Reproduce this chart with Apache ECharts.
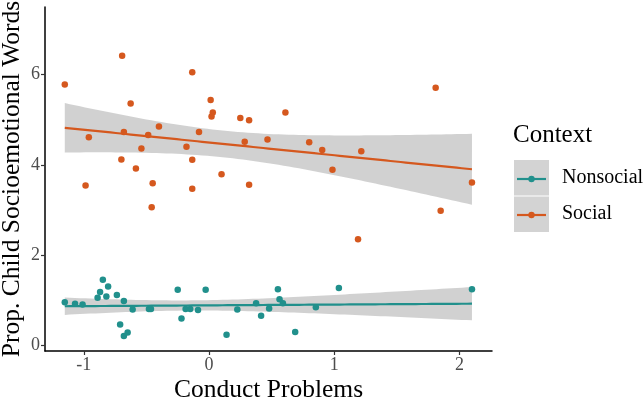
<!DOCTYPE html>
<html>
<head>
<meta charset="utf-8">
<script src="https://cdn.jsdelivr.net/npm/echarts@6/dist/echarts.min.js"></script>
<style>
html,body{margin:0;padding:0;background:#fff;}
#chart{width:644px;height:401px;}
</style>
</head>
<body>
<div id="chart"></div>
<script>
// ---- data ----
const seriesNames = ['Nonsocial', 'Social'];
const nonsocialX = [-1.152,-1.07,-1.01,-0.89,-0.87,-0.848,-0.806,-0.82,-0.736,-0.68,-0.61,-0.71,-0.68,-0.65,-0.48,-0.464,-0.25,-0.22,-0.187,-0.15,-0.088,-0.027,0.14,0.226,0.376,0.416,0.48,0.55,0.563,0.59,0.688,0.853,1.037,2.10];
const nonsocialY = [0.95,0.92,0.90,1.05,1.18,1.45,1.30,1.08,1.11,0.98,0.79,0.46,0.20,0.28,0.80,0.80,1.23,0.59,0.80,0.80,0.78,1.23,0.23,0.79,0.93,0.65,0.81,1.24,1.02,0.93,0.29,0.84,1.27,1.24];
const socialX = [-1.152,-0.694,-0.134,-0.626,0.013,0.03,0.02,0.25,0.32,0.61,1.81,-0.96,-0.68,-0.486,-0.40,-0.54,-0.18,-0.08,-0.70,-0.134,-0.584,0.10,-0.986,-0.45,-0.134,0.285,0.467,0.80,0.904,1.216,0.32,0.986,2.10,-0.458,1.19,1.85];
const socialY = [5.78,6.42,6.05,5.36,5.44,5.16,5.07,5.04,4.99,5.16,5.71,4.61,4.73,4.66,4.85,4.36,4.40,4.73,4.12,4.11,3.92,3.79,3.54,3.59,3.47,4.51,4.56,4.50,4.33,4.30,3.56,3.89,3.61,3.06,2.35,2.98];
const xTicks = [-1, 0, 1, 2];
const yTicks = [0, 2, 4, 6];
const xAxisTitle = 'Conduct Problems';
const yAxisTitle = 'Prop. Child Socioemotional Words';
const legendTitle = 'Context';

const colors = {Nonsocial: '#21908C', Social: '#D5581E'};
const T975 = 2.03; // t quantile for 95% CI of lm fit

function lmFit(xs, ys) {
  const n = xs.length;
  const mx = xs.reduce((a, b) => a + b, 0) / n;
  const my = ys.reduce((a, b) => a + b, 0) / n;
  let sxx = 0, sxy = 0;
  for (let i = 0; i < n; i++) { sxx += (xs[i] - mx) ** 2; sxy += (xs[i] - mx) * (ys[i] - my); }
  const b = sxy / sxx, a = my - b * mx;
  let sse = 0;
  for (let i = 0; i < n; i++) sse += (ys[i] - a - b * xs[i]) ** 2;
  const s = Math.sqrt(sse / (n - 2));
  const xmin = Math.min(...xs), xmax = Math.max(...xs);
  const line = [], band = [];
  const steps = 80;
  for (let k = 0; k <= steps; k++) {
    const x = xmin + (xmax - xmin) * k / steps;
    const yh = a + b * x;
    const se = s * Math.sqrt(1 / n + (x - mx) ** 2 / sxx);
    line.push([x, yh]);
    band.push([x, yh - T975 * se, yh + T975 * se]);
  }
  return {line, band};
}

const groups = [
  {name: 'Nonsocial', xs: nonsocialX, ys: nonsocialY},
  {name: 'Social', xs: socialX, ys: socialY}
];

const series = [];
groups.forEach(g => {
  const fit = lmFit(g.xs, g.ys);
  series.push({
    type: 'custom',
    data: fit.band,
    z: 2,
    silent: true,
    renderItem: function (params, api) {
      if (params.dataIndex !== 0) return null;
      const up = [], lo = [];
      fit.band.forEach(d => { up.push(api.coord([d[0], d[2]])); lo.push(api.coord([d[0], d[1]])); });
      return {
        type: 'polygon',
        shape: {points: up.concat(lo.reverse())},
        style: {fill: 'rgba(153,153,153,0.45)'}
      };
    }
  });
  series.push({
    type: 'line',
    data: fit.line,
    showSymbol: false,
    lineStyle: {color: colors[g.name], width: 2.2},
    z: 3,
    silent: true
  });
  series.push({
    name: g.name,
    type: 'scatter',
    data: g.xs.map((x, i) => [x, g.ys[i]]),
    symbolSize: 6.5,
    itemStyle: {color: colors[g.name], opacity: 1},
    z: 4,
    silent: true
  });
});

const serif = '"Liberation Serif", "Times New Roman", serif';
const chart = echarts.init(document.getElementById('chart'), null, {renderer: 'canvas'});

const legendGraphics = [
  {type: 'text', left: 513, top: 123, style: {text: legendTitle, font: '25px ' + serif, fill: '#000'}},
  {type: 'rect', shape: {x: 514, y: 160, width: 35, height: 35.5}, style: {fill: '#d3d3d3'}},
  {type: 'rect', shape: {x: 514, y: 196.5, width: 35, height: 35.5}, style: {fill: '#d3d3d3'}}
];
seriesNames.forEach((nm, i) => {
  const cy = 179 + i * 36;
  legendGraphics.push({type: 'line', shape: {x1: 517, y1: cy, x2: 546, y2: cy}, style: {stroke: colors[nm], lineWidth: 2.2}});
  legendGraphics.push({type: 'circle', shape: {cx: 531.5, cy: cy, r: 3.2}, style: {fill: colors[nm]}});
  legendGraphics.push({type: 'text', left: 562, top: cy - 11, style: {text: nm, font: '20px ' + serif, fill: '#000'}});
});

chart.setOption({
  animation: false,
  backgroundColor: '#fff',
  grid: {left: 45, right: 152, top: 7, bottom: 50, containLabel: false, outerBoundsMode: 'none'},
  xAxis: {
    type: 'value',
    min: -1.31, max: 2.26,
    name: xAxisTitle,
    nameLocation: 'middle',
    nameGap: 26,
    nameMoveOverlap: false,
    nameTextStyle: {fontFamily: serif, fontSize: 25.5, color: '#000'},
    axisLine: {show: true, onZero: false, lineStyle: {color: '#000', width: 1.5}},
    axisTick: {show: true, length: 4, customValues: xTicks, lineStyle: {color: '#333', width: 1.2}},
    axisLabel: {customValues: xTicks, fontFamily: serif, fontSize: 18, color: '#4d4d4d', margin: 5},
    splitLine: {show: false}
  },
  yAxis: {
    type: 'value',
    min: -0.13, max: 7.5,
    name: yAxisTitle,
    nameLocation: 'middle',
    nameGap: 20,
    nameMoveOverlap: false,
    nameTextStyle: {fontFamily: serif, fontSize: 25.5, color: '#000'},
    axisLine: {show: true, onZero: false, lineStyle: {color: '#000', width: 1.5}},
    axisTick: {show: true, length: 4, customValues: yTicks, lineStyle: {color: '#333', width: 1.2}},
    axisLabel: {customValues: yTicks, fontFamily: serif, fontSize: 18, color: '#4d4d4d', margin: 5},
    splitLine: {show: false}
  },
  series: series,
  graphic: legendGraphics
});
</script>
</body>
</html>
